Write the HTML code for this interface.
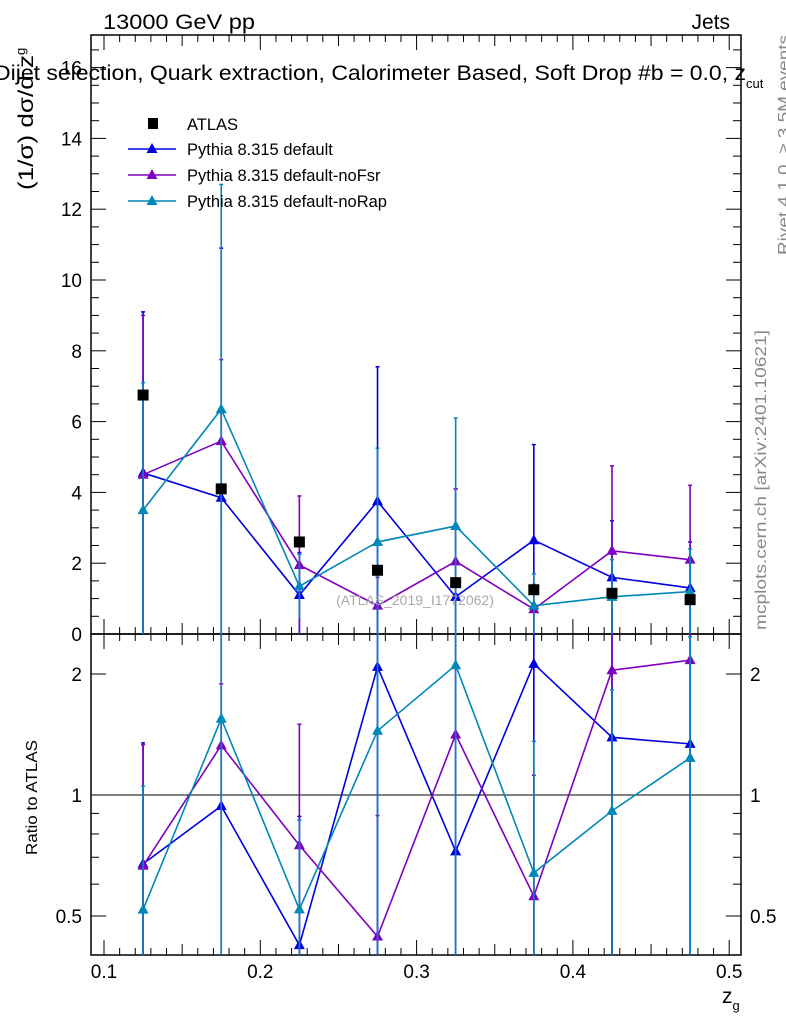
<!DOCTYPE html>
<html><head><meta charset="utf-8"><style>
body{margin:0;background:#fff;}
svg{display:block;font-family:"Liberation Sans",sans-serif;}
</style></head><body>
<svg id="chart" width="786" height="1024" viewBox="0 0 786 1024" xmlns="http://www.w3.org/2000/svg">
<text x="103" y="29" font-size="21" textLength="152" lengthAdjust="spacingAndGlyphs">13000 GeV pp</text>
<text x="730" y="29" font-size="21" text-anchor="end">Jets</text>
<g id="plot"></g>
<text x="-6" y="80" font-size="21"><tspan textLength="752" lengthAdjust="spacingAndGlyphs">Dijet selection, Quark extraction, Calorimeter Based, Soft Drop #b = 0.0, z</tspan><tspan dy="8" font-size="13">cut</tspan></text>
<text transform="translate(789,255) rotate(-90)" font-size="16" fill="#888" textLength="220" lengthAdjust="spacingAndGlyphs">Rivet 4.1.0, ≥ 3.5M events</text>
<text transform="translate(766,630) rotate(-90)" font-size="16" fill="#888" textLength="300" lengthAdjust="spacingAndGlyphs">mcplots.cern.ch [arXiv:2401.10621]</text>
<text x="415" y="605" font-size="14" fill="#aaa" text-anchor="middle">(ATLAS_2019_I1772062)</text>
<text transform="translate(33,190) rotate(-90)" font-size="21"><tspan textLength="135" lengthAdjust="spacingAndGlyphs">(1/σ) dσ/d z</tspan><tspan dy="-8" font-size="13">g</tspan></text>
<text transform="translate(37,855) rotate(-90)" font-size="16" textLength="115" lengthAdjust="spacingAndGlyphs">Ratio to ATLAS</text>
<text x="722" y="1003" font-size="21">z<tspan dy="7" font-size="13">g</tspan></text>
</svg>
<script>
const xCenters=[0.125,0.175,0.225,0.275,0.325,0.375,0.425,0.475];
const atlasVals=[6.75,4.1,2.6,1.8,1.45,1.25,1.15,0.97];
const defaultVals=[4.55,3.85,1.1,3.75,1.05,2.65,1.6,1.3];
const defaultErr=[4.55,7.05,1.2,3.8,3.05,2.7,1.6,1.3];
const noFsrVals=[4.5,5.45,1.95,0.8,2.05,0.7,2.35,2.1];
const noFsrErr=[4.5,2.3,1.95,0.8,2.05,0.7,2.4,2.1];
const noRapVals=[3.5,6.35,1.35,2.6,3.05,0.8,1.05,1.2];
const noRapErr=[3.6,6.35,0.9,2.65,3.05,0.9,1.05,1.2];
const yTicks=[0,2,4,6,8,10,12,14,16];
const xTicks=[0.1,0.2,0.3,0.4,0.5];
const rTicks=[0.5,1,2];

const NS="http://www.w3.org/2000/svg";
const g=document.getElementById('plot');
const L=91,R=741,T=35,M=634,B=955;
const X=v=>104+(v-0.1)*1563;
const Y=v=>634-35.4*v;
const RY=r=>795-121*Math.log2(r);
function mk(tag,at,parent){const e=document.createElementNS(NS,tag);for(const k in at)e.setAttribute(k,at[k]);(parent||g).appendChild(e);return e;}

let f=mk('rect',{x:L,y:T,width:R-L,height:M-T,fill:'none',stroke:'#000','stroke-width':1.5});


f=mk('rect',{x:L,y:M,width:R-L,height:B-M,fill:'none',stroke:'#000','stroke-width':1.5});



for(let v=0;v<=16.9;v+=0.5){const y=Y(v);const maj=Math.abs(v/2-Math.round(v/2))<1e-6;const l=maj?15:8;
 mk('line',{x1:L,x2:L+l,y1:y,y2:y,stroke:'#000'});mk('line',{x1:R,x2:R-l,y1:y,y2:y,stroke:'#000'});}
yTicks.forEach(v=>{const t=mk('text',{x:82,y:Y(v)+7,'font-size':19,'text-anchor':'end'});t.textContent=v;
 
 });
for(let i=9;i<=50;i++){const v=i/100;const x=X(v);if(x<L||x>R)continue;const l=i%10==0?15:(i%5==0?11:7);
 mk('line',{x1:x,x2:x,y1:M,y2:M-l,stroke:'#000'});mk('line',{x1:x,x2:x,y1:T,y2:T+l,stroke:'#000'});
 mk('line',{x1:x,x2:x,y1:B,y2:B-l,stroke:'#000'});mk('line',{x1:x,x2:x,y1:M,y2:M+l,stroke:'#000'});}
xTicks.forEach(v=>{const t=mk('text',{x:X(v),y:978,'font-size':19,'text-anchor':'middle'});t.textContent=v;
 
 });
[0.4,0.5,0.6,0.7,0.8,0.9,1,2].forEach(r=>{const y=RY(r);const l=(r==0.5||r==1||r==2)?15:8;
 mk('line',{x1:L,x2:L+l,y1:y,y2:y,stroke:'#000'});mk('line',{x1:R,x2:R-l,y1:y,y2:y,stroke:'#000'});});
rTicks.forEach(r=>{let t=mk('text',{x:82,y:RY(r)+7,'font-size':19,'text-anchor':'end'});t.textContent=r;
 
 
 t=mk('text',{x:750,y:RY(r)+7,'font-size':19});t.textContent=r;
 
 });
let ref=mk('line',{x1:L,x2:R,y1:RY(1),y2:RY(1),stroke:'#000'});



const clipY=(y,top,bot)=>Math.max(top,Math.min(bot,y));
function tri(x,y,c,p){mk('polygon',{points:`${x},${y-6} ${x-5.5},${y+4} ${x+5.5},${y+4}`,fill:c},p);}
function series(vals,err,color,name){
 const p=mk('g',{});
 
 
 mk('polyline',{points:xCenters.map((x,i)=>X(x)+','+Y(vals[i])).join(' '),fill:'none',stroke:color,'stroke-width':1.6},p);
 xCenters.forEach((x,i)=>{const xx=X(x);const y1=clipY(Y(vals[i]+err[i]),T,M),y2=clipY(Y(vals[i]-err[i]),T,M);
  mk('line',{x1:xx,x2:xx,y1:y1,y2:y2,stroke:color,'stroke-width':1.6},p);
  if(y1>T)mk('line',{x1:xx-2,x2:xx+2,y1:y1,y2:y1,stroke:color,'stroke-width':1.5},p);
  tri(xx,Y(vals[i]),color,p);});
 const rv=vals.map((v,i)=>v/atlasVals[i]);
 mk('polyline',{points:xCenters.map((x,i)=>X(x)+','+RY(rv[i])).join(' '),fill:'none',stroke:color,'stroke-width':1.6},p);
 xCenters.forEach((x,i)=>{const xx=X(x);const hi=(vals[i]+err[i])/atlasVals[i],lo=(vals[i]-err[i])/atlasVals[i];
  const y1=clipY(RY(hi),M,B),y2=lo>0?clipY(RY(lo),M,B):B;
  mk('line',{x1:xx,x2:xx,y1:y1,y2:y2,stroke:color,'stroke-width':1.6},p);
  if(y1>M)mk('line',{x1:xx-2,x2:xx+2,y1:y1,y2:y1,stroke:color,'stroke-width':1.5},p);
  tri(xx,RY(rv[i]),color,p);});
}
series(defaultVals,defaultErr,'#0000e0','series-default');
series(noFsrVals,noFsrErr,'#7f00bf','series-nofsr');
series(noRapVals,noRapErr,'#0088b8','series-norap');
const ap=mk('g',{});


xCenters.forEach((x,i)=>{mk('rect',{x:X(x)-5.5,y:Y(atlasVals[i])-5.5,width:11,height:11,fill:'#000'},ap);});

const lg=mk('g',{});


mk('rect',{x:148,y:118,width:10,height:11,fill:'#000'},lg);
let lt=mk('text',{x:187,y:130,'font-size':16.5},lg);lt.textContent='ATLAS';
[['Pythia 8.315 default','#0000e0'],['Pythia 8.315 default-noFsr','#7f00bf'],['Pythia 8.315 default-noRap','#0088b8']].forEach((d,i)=>{
 const y=149+i*26;
 mk('line',{x1:128,x2:176,y1:y,y2:y,stroke:d[1],'stroke-width':1.6},lg);
 tri(152,y,d[1],lg);
 const t=mk('text',{x:187,y:y+6,'font-size':16.5},lg);t.textContent=d[0];
 
 });
</script>
</body></html>
